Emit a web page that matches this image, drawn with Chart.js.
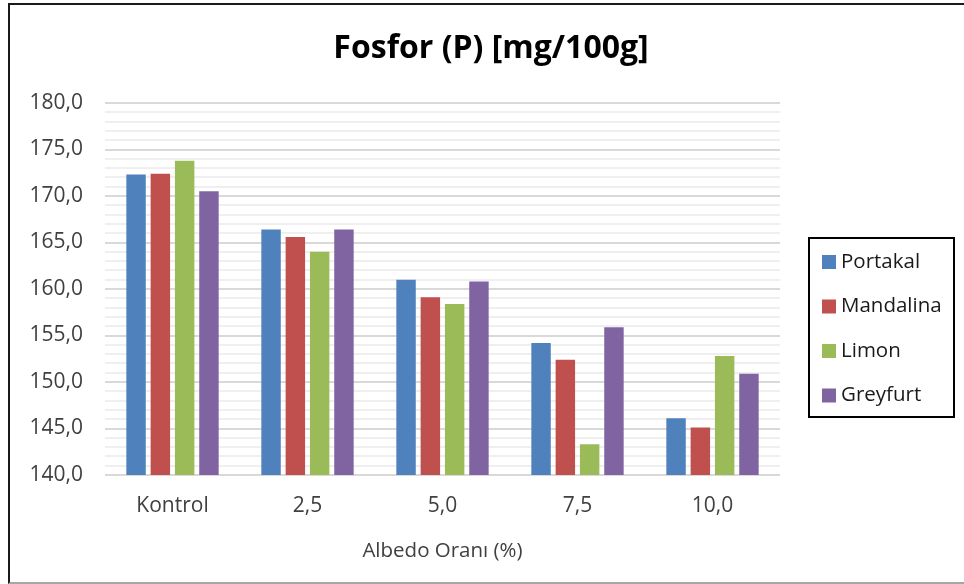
<!DOCTYPE html>
<html>
<head>
<meta charset="utf-8">
<script src="https://cdn.jsdelivr.net/npm/chart.js@4.4.1/dist/chart.umd.min.js"></script>
<style>
    body { margin: 0; background: #fff; }
    #wrap { position: relative; width: 964px; height: 584px; }
    #frame { position: absolute; left: 8px; top: 3px; width: 970px; height: 577px; border: 2px solid #1a1a1a; border-right: none; border-bottom-color: #a6a6a6; pointer-events: none; }
</style>
</head>
<body>
<div id="wrap">
    <canvas id="chart" width="964" height="584"></canvas>
    <div id="frame"></div>
</div>
<script>
// data
var categories = ['Kontrol', '2,5', '5,0', '7,5', '10,0'];
var portakal = [172.3, 166.4, 161.0, 154.2, 146.1];
var mandalina = [172.4, 165.6, 159.1, 152.4, 145.1];
var limon = [173.8, 164.0, 158.4, 143.3, 152.8];
var greyfurt = [170.5, 166.4, 160.8, 155.9, 150.9];
var seriesNames = ['Portakal', 'Mandalina', 'Limon', 'Greyfurt'];
var seriesColors = ['#4F81BD', '#C0504D', '#9BBB59', '#8064A2'];
var yMin = 140, yMax = 180, yMajor = 5, yMinor = 1;
var chartTitle = 'Fosfor (P) [mg/100g]';
var xTitle = 'Albedo Oranı (%)';

var FONT = '"Open Sans", Lato, sans-serif';

// title + boxed legend drawn by hand, like the Excel original
var decor = {
    id: 'decor',
    afterDraw: function (chart) {
        var ctx = chart.ctx;
        ctx.save();
        ctx.fillStyle = '#000';
        ctx.font = 'bold 32px ' + FONT;
        ctx.textAlign = 'center';
        ctx.textBaseline = 'middle';
        ctx.fillText(chartTitle, 491, 49);

        // legend box
        ctx.strokeStyle = '#000';
        ctx.lineWidth = 2;
        ctx.strokeRect(809, 238, 145, 179);
        ctx.font = '20.5px ' + FONT;
        ctx.textAlign = 'left';
        chart.data.datasets.forEach(function (ds, i) {
            var y = 262 + i * 44.5;
            ctx.fillStyle = ds.backgroundColor;
            ctx.fillRect(822, y - 7, 14, 14);
            ctx.fillStyle = '#1a1a1a';
            ctx.fillText(ds.label, 841, y);
        });
        ctx.restore();
    }
};

var seriesData = [portakal, mandalina, limon, greyfurt];
var datasets = seriesData.map(function (vals, i) {
    return {
        label: seriesNames[i],
        data: vals,
        backgroundColor: seriesColors[i],
        borderWidth: 0,
        categoryPercentage: 0.72,
        barPercentage: 0.8
    };
});

new Chart(document.getElementById('chart'), {
    type: 'bar',
    data: { labels: categories, datasets: datasets },
    plugins: [decor],
    options: {
        responsive: false,
        animation: false,
        layout: { padding: { left: 20, right: 184, top: 103, bottom: 0 } },
        plugins: {
            legend: { display: false },
            title: { display: false },
            tooltip: { enabled: false }
        },
        scales: {
            x: {
                grid: { display: false, drawTicks: false },
                border: { display: false },
                ticks: { color: '#404040', font: { family: FONT, size: 21 }, padding: 18 },
                title: {
                    display: true,
                    text: xTitle,
                    color: '#404040',
                    font: { family: FONT, size: 20.5 },
                    padding: { top: 0, bottom: 21 }
                },
                afterFit: function (scale) { scale.height = 109; }
            },
            y: {
                min: yMin,
                max: yMax,
                border: { display: false },
                grid: {
                    drawTicks: false,
                    color: function (c) { return c.tick && c.tick.value % yMajor === 0 ? '#d9d9d9' : '#efefef'; },
                    lineWidth: 2
                },
                ticks: {
                    stepSize: yMinor,
                    autoSkip: false,
                    padding: 22,
                    color: '#404040',
                    font: { family: FONT, size: 21 },
                    callback: function (v) {
                        return v % yMajor === 0 ? v.toFixed(1).replace('.', ',') : '';
                    }
                },
                afterFit: function (scale) { scale.width = 85; }
            }
        }
    }
});
</script>
</body>
</html>
